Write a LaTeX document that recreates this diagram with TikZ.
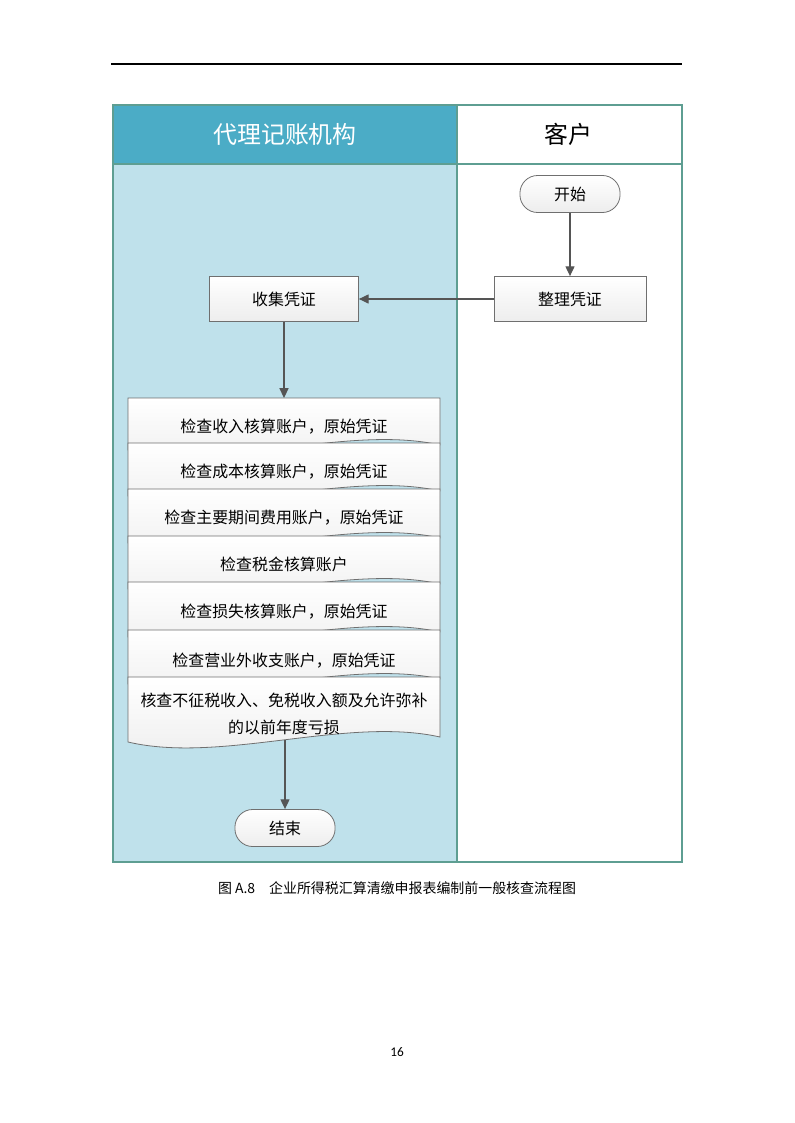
\documentclass[tikz,border=0pt]{standalone}
\usepackage{fontspec}
\setmainfont{Noto Sans CJK SC}
\newfontfamily\pagenumfont{Carlito}
\usepackage{xcolor}
\usetikzlibrary{arrows.meta}
\definecolor{headfill}{HTML}{4BACC6}
\definecolor{lanefill}{HTML}{BFE1EB}
\definecolor{frame}{HTML}{5E9E92}
\definecolor{stroke}{HTML}{6F6F6F}
\definecolor{arrowc}{HTML}{555555}
\tikzset{
  lane/.style={draw=frame, line width=1.1pt},
  proc/.style={draw=stroke, line width=0.6pt, top color=white, bottom color=black!7,
    minimum width=#1, minimum height=11.9mm, font=\fontsize{12}{14}\selectfont},
  term/.style={draw=stroke, line width=0.6pt, top color=white, bottom color=black!7,
    rounded corners=4.7mm, minimum width=26.5mm, minimum height=9.8mm, font=\fontsize{12}{14}\selectfont},
  docbox/.style={draw=stroke, line width=0.6pt, top color=white, bottom color=black!7},
  doctext/.style={font=\fontsize{12}{20}\selectfont, align=center},
  flow/.style={draw=arrowc, line width=0.9pt, -{Triangle[length=2.6mm,width=2.4mm]}},
  headtext/.style={font=\fontsize{18}{20}\selectfont},
}
\begin{document}
\begin{tikzpicture}[x=0.26458mm,y=-0.26458mm]
  \useasboundingbox (0,0) rectangle (794,1123);
  % page rule
  \draw[line width=0.8pt] (111,64) -- (682,64);
  % swim lanes
  \fill[lanefill] (113,164) rectangle (457,862);
  \fill[headfill] (113,105) rectangle (457,164);
  \draw[lane] (113,105) rectangle (682,862);
  \draw[lane] (457,105) -- (457,862);
  \draw[lane] (113,164) -- (682,164);
  \node[headtext, text=white] (laneagent) at (285,134) {代理记账机构};
  \node[headtext] (lanecust) at (568,134) {客户};
  % client side
  \node[term] (start) at (570,194) {开始};
  \node[proc=40.2mm] (sort) at (570,299) {整理凭证};
  % agent side
  \node[proc=39.4mm] (collect) at (284,299) {收集凭证};
  \draw[flow] (start) -- (sort);
  \draw[flow] (sort) -- (collect);
  % stacked document boxes
  \foreach \i/\top/\bot/\ty/\txt in {
      1/398/443/427/{检查收入核算账户，原始凭证},
      2/443/489/472/{检查成本核算账户，原始凭证},
      3/489/536/518/{检查主要期间费用账户，原始凭证},
      4/536/582/564/{检查税金核算账户},
      5/582/630/612/{检查损失核算账户，原始凭证},
      6/630/677/661/{检查营业外收支账户，原始凭证},
      7/677/735/714/{核查不征税收入、免税收入额及允许弥补\\的以前年度亏损}}{
    \draw[docbox] (128,\top) -- (440,\top) -- (440,\bot+2)
      .. controls (346.4,\bot-19) and (221.6,\bot+29) .. (128,\bot+7) -- cycle;
    \node[doctext] (check\i) at (284,\ty) {\txt};
  }
  \coordinate (stacktop) at (284,398);
  \coordinate (stackend) at (285,740);
  \draw[flow] (collect) -- (stacktop);
  \node[term] (finish) at (285,828) {结束};
  \draw[flow] (stackend) -- (finish);
  % caption and page number
  \node[font=\fontsize{10.5}{12}\selectfont] (caption) at (397,888) {图 A.8\quad 企业所得税汇算清缴申报表编制前一般核查流程图};
  \node[font=\pagenumfont\fontsize{10}{12}\selectfont] (pagenum) at (397,1052) {16};
\end{tikzpicture}
\end{document}
